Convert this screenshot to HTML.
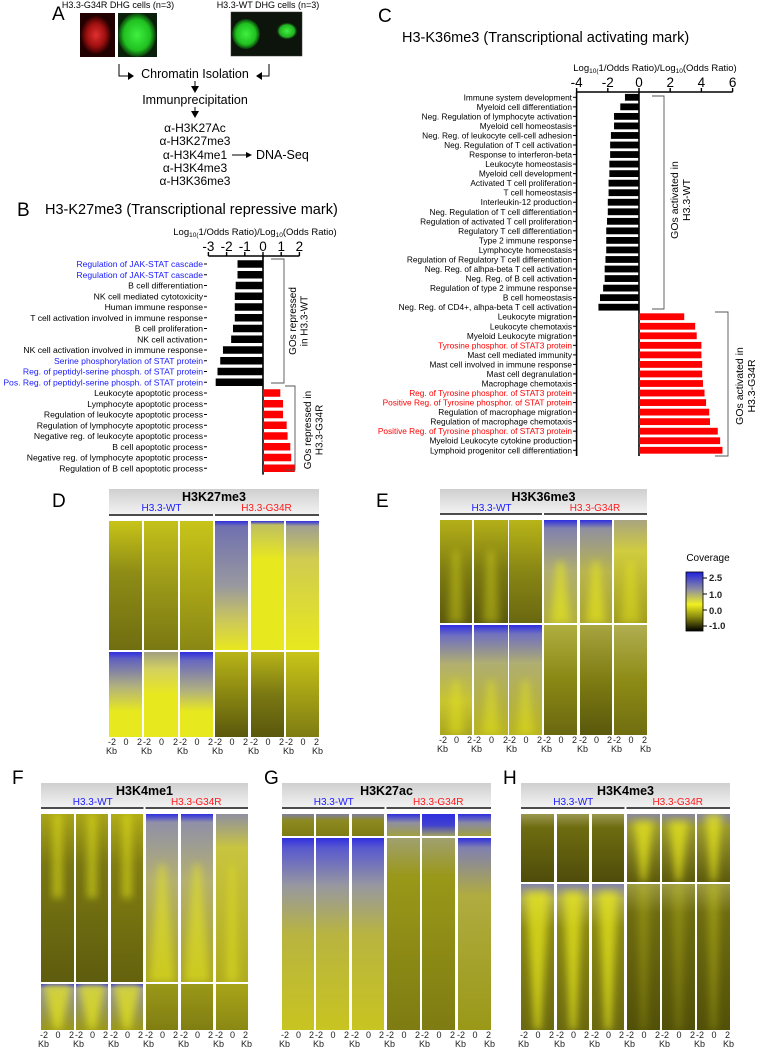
<!DOCTYPE html>
<html><head><meta charset="utf-8"><style>
html,body{margin:0;padding:0;background:#fff;}
svg{display:block;font-family:"Liberation Sans",Arial,sans-serif;}
</style></head><body>
<svg id="fig" width="757" height="1049" viewBox="0 0 757 1049" xmlns="http://www.w3.org/2000/svg">
<defs>
<filter id="blur3" x="-50%" y="-10%" width="200%" height="120%"><feGaussianBlur stdDeviation="4"/></filter>
<radialGradient id="redblob" cx="50%" cy="50%" r="50%"><stop offset="0" stop-color="#e03030"/><stop offset="0.6" stop-color="#a01010"/><stop offset="1" stop-color="#300000"/></radialGradient>
<radialGradient id="greenblob" cx="50%" cy="50%" r="50%"><stop offset="0" stop-color="#40f040"/><stop offset="0.7" stop-color="#20c020"/><stop offset="1" stop-color="#0a3a0a"/></radialGradient>
<radialGradient id="greensmall" cx="50%" cy="50%" r="50%"><stop offset="0" stop-color="#40f040"/><stop offset="0.7" stop-color="#20b020"/><stop offset="1" stop-color="#101a10" stop-opacity="0"/></radialGradient>
<linearGradient id="cbar" x1="0" y1="0" x2="0" y2="1"><stop offset="0" stop-color="#2020e0"/><stop offset="0.3" stop-color="#9090a0"/><stop offset="0.55" stop-color="#f0f020"/><stop offset="0.75" stop-color="#909010"/><stop offset="1" stop-color="#000"/></linearGradient>
<linearGradient id="hdr" x1="0" y1="0" x2="0" y2="1"><stop offset="0" stop-color="#cfcfcf"/><stop offset="1" stop-color="#f2f2f2"/></linearGradient>
</defs>

<!-- Panel A -->
<g>
<text x="52" y="20" font-size="19">A</text>
<text x="118" y="8" font-size="9" text-anchor="middle">H3.3-G34R DHG cells (n=3)</text>
<text x="268" y="8" font-size="9" text-anchor="middle">H3.3-WT DHG cells (n=3)</text>
<rect x="80" y="13" width="35" height="44" fill="#200000"/>
<ellipse cx="96" cy="35" rx="15" ry="19" fill="url(#redblob)"/>
<rect x="118" y="13" width="39" height="44" fill="#0a200a"/>
<ellipse cx="137" cy="35" rx="19" ry="22" fill="url(#greenblob)"/>
<rect x="231" y="12" width="71" height="44" fill="#0c140c" stroke="#333" stroke-width="0.5"/>
<ellipse cx="246" cy="34" rx="14" ry="15" fill="url(#greenblob)"/>
<ellipse cx="287" cy="31" rx="11" ry="9" fill="url(#greensmall)"/>
<path d="M119 64 V76 H128" fill="none" stroke="#000" stroke-width="1"/>
<polygon points="128,72 134,76 128,80" fill="#000"/>
<path d="M269 64 V76 H262" fill="none" stroke="#000" stroke-width="1"/>
<polygon points="262,72 256,76 262,80" fill="#000"/>
<text x="195" y="78" font-size="12.5" text-anchor="middle">Chromatin Isolation</text>
<line x1="195" y1="81" x2="195" y2="88" stroke="#000"/><polygon points="191,86 199,86 195,93" fill="#000"/>
<text x="195" y="104" font-size="12.5" text-anchor="middle">Immunprecipitation</text>
<line x1="195" y1="107" x2="195" y2="113" stroke="#000"/><polygon points="191,111 199,111 195,118" fill="#000"/>
<g font-size="12" text-anchor="middle">
<text x="195" y="132">α-H3K27Ac</text>
<text x="195" y="145">α-H3K27me3</text>
<text x="195" y="159">α-H3K4me1</text>
<text x="195" y="172">α-H3K4me3</text>
<text x="195" y="185">α-H3K36me3</text>
</g>
<line x1="232" y1="155" x2="248" y2="155" stroke="#000"/><polygon points="246,152 252,155 246,158" fill="#000"/>
<text x="256" y="159" font-size="12.5">DNA-Seq</text>
</g>

<g id="chartB">
<text x="17" y="216" font-size="19">B</text>
<text x="45" y="214" font-size="14.5">H3-K27me3 (Transcriptional repressive mark)</text>
</g>
<g id="chartC">
<text x="378" y="22" font-size="19">C</text>
<text x="402" y="42" font-size="14.5">H3-K36me3 (Transcriptional activating mark)</text>
</g>

<g id="heatmaps">
<text x="52" y="507" font-size="19">D</text>
<text x="376" y="507" font-size="19">E</text>
<text x="12" y="784" font-size="19">F</text>
<text x="264" y="784" font-size="19">G</text>
<text x="503" y="784" font-size="19">H</text>
</g>

<g>
<text x="708" y="561" font-size="10" text-anchor="middle">Coverage</text>
<rect x="686" y="572" width="17" height="59" fill="url(#cbar)" stroke="#000" stroke-width="0.8"/>
<g font-size="9.5" font-weight="bold" fill="#222">
<line x1="703" y1="578" x2="707" y2="578" stroke="#000"/><text x="709" y="581">2.5</text>
<line x1="703" y1="594" x2="707" y2="594" stroke="#000"/><text x="709" y="598">1.0</text>
<line x1="703" y1="610" x2="707" y2="610" stroke="#000"/><text x="709" y="614">0.0</text>
<line x1="703" y1="626" x2="707" y2="626" stroke="#000"/><text x="709" y="629">-1.0</text>
</g>
</g>
</svg>
<script>
// ---------- Panel B data ----------
const bLabels = ["Regulation of JAK-STAT cascade","Regulation of JAK-STAT cascade","B cell differentiation","NK cell mediated cytotoxicity","Human immune response","T cell activation involved in immune response","B cell proliferation","NK cell activation","NK cell activation involved in immune response","Serine phosphorylation of STAT protein","Reg. of peptidyl-serine phosph. of STAT protein","Pos. Reg. of peptidyl-serine phosph. of STAT protein","Leukocyte apoptotic process","Lymphocyte apoptotic process","Regulation of leukocyte apoptotic process","Regulation of lymphocyte apoptotic process","Negative reg. of leukocyte apoptotic process","B cell apoptotic process","Negative reg. of lymphocyte apoptotic process","Regulation of B cell apoptotic process"];
const bValues = [-1.4,-1.4,-1.5,-1.55,-1.55,-1.55,-1.65,-1.75,-2.2,-2.35,-2.5,-2.6,0.95,1.1,1.1,1.3,1.35,1.5,1.55,1.75];
const bHighlight = [1,1,0,0,0,0,0,0,0,1,1,1,0,0,0,0,0,0,0,0];
const bTicks = [-3,-2,-1,0,1,2];
// ---------- Panel C data ----------
const cLabels = ["Immune system development","Myeloid cell differentiation","Neg. Regulation of lymphocyte activation","Myeloid cell homeostasis","Neg. Reg. of leukocyte cell-cell adhesion","Neg. Regulation of T cell activation","Response to interferon-beta","Leukocyte homeostasis","Myeloid cell development","Activated T cell proliferation","T cell homeostasis","Interleukin-12 production","Neg. Regulation of T cell differentiation","Regulation of activated T cell proliferation","Regulatory T cell differentiation","Type 2 immune response","Lymphocyte homeostasis","Regulation of Regulatory T cell differentiation","Neg. Reg. of alhpa-beta T cell activation","Neg. Reg. of B cell activation","Regulation of type 2 immune response","B cell homeostasis","Neg. Reg. of CD4+, alhpa-beta T cell activation","Leukocyte migration","Leukocyte chemotaxis","Myeloid Leukocyte migration","Tyrosine phosphor. of STAT3 protein","Mast cell mediated immunity","Mast cell involved in immune response","Mast cell degranulation","Macrophage chemotaxis","Reg. of Tyrosine phosphor. of STAT3 protein","Positive Reg. of Tyrosine phosphor. of STAT protein","Regulation of macrophage migration","Regulation of macrophage chemotaxis","Positive Reg. of Tyrosine phosphor. of STAT3 protein","Myeloid Leukocyte cytokine production","Lymphoid progenitor cell differentiation"];
const cValues = [-0.9,-1.2,-1.6,-1.6,-1.8,-1.85,-1.85,-1.9,-1.9,-1.95,-1.95,-2.0,-2.0,-2.05,-2.1,-2.1,-2.1,-2.15,-2.2,-2.2,-2.3,-2.5,-2.6,2.9,3.6,3.7,4.0,4.0,4.05,4.05,4.1,4.2,4.3,4.5,4.55,5.05,5.2,5.35];
const cHighlight = [0,0,0,0,0,0,0,0,0,0,0,0,0,0,0,0,0,0,0,0,0,0,0,0,0,0,1,0,0,0,0,1,1,0,0,1,0,0];
const cTicks = [-4,-2,0,2,4,6];

const NS = "http://www.w3.org/2000/svg";
function mk(tag, attrs, parent){const e=document.createElementNS(NS,tag);for(const k in attrs)e.setAttribute(k,attrs[k]);parent.appendChild(e);return e;}

function drawBars(g, o){
  const xs = v => o.zeroX + v*o.unit;
  const ys = i => o.y0 + i*o.step;
  const n = o.labels.length;
  const yEnd = ys(n-1)+o.step/2+1;
  const at = mk('text',{x:o.titleX,y:o.axisY-21,'font-size':9.5,'text-anchor':'middle'},g);
  
  
  at.innerHTML='Log<tspan font-size="6.5" dy="2">10(</tspan><tspan dy="-2">1/Odds Ratio)/Log</tspan><tspan font-size="6.5" dy="2">10</tspan><tspan dy="-2">(Odds Ratio)</tspan>';
  const ax = mk('line',{x1:xs(o.ticks[0]),x2:xs(o.ticks[o.ticks.length-1]),y1:o.axisY,y2:o.axisY,stroke:'#000','stroke-width':1.6},g);
  
  
  o.ticks.forEach(t=>{
    mk('line',{x1:xs(t),x2:xs(t),y1:o.axisY-4,y2:o.axisY,stroke:'#000','stroke-width':1.4},g);
    const tl = mk('text',{x:xs(t),y:o.axisY-5,'font-size':o.tickFont,'text-anchor':'middle'},g);
    
    
    tl.textContent=t;
  });
  if(o.leftAxis){
    const la = mk('line',{x1:xs(o.ticks[0]),x2:xs(o.ticks[0]),y1:o.axisY,y2:yEnd,stroke:'#000','stroke-width':1.6},g);
    
    
  }
  const zl = mk('line',{x1:xs(0),x2:xs(0),y1:o.axisY,y2:yEnd,stroke:'#000','stroke-width':1.6},g);
  
  
  o.labels.forEach((lab,i)=>{
    const v=o.values[i], y=ys(i);
    const r = mk('rect',{x:Math.min(xs(0),xs(v)),y:y-o.barH/2,width:Math.abs(xs(v)-xs(0)),height:o.barH,fill:v<0?'#000':'#ff0000'},g);
    
    
    mk('line',{x1:o.labelX+1,x2:o.labelX+4,y1:y,y2:y,stroke:'#000','stroke-width':1},g);
    const t = mk('text',{x:o.labelX,y:y+3,'font-size':o.labelFont,'text-anchor':'end',fill:o.hl[i]?o.hlColor:'#000'},g);
    
    
    t.textContent=lab;
  });
}
drawBars(document.getElementById('chartB'),{labels:bLabels,values:bValues,hl:bHighlight,hlColor:'#1a1aff',ticks:bTicks,zeroX:263,unit:18.2,axisY:256,y0:264,step:10.75,barH:7.5,labelX:203,labelFont:8.6,tickFont:13.5,titleX:255,leftAxis:false});
drawBars(document.getElementById('chartC'),{labels:cLabels,values:cValues,hl:cHighlight,hlColor:'#ff0000',ticks:cTicks,zeroX:639,unit:15.6,axisY:92,y0:97.3,step:9.54,barH:6.8,labelX:572,labelFont:8.3,tickFont:13.5,titleX:655,leftAxis:true});

function bracket(g,x1,x2,y1,y2,name){const p=mk('path',{d:`M${x1} ${y1} H${x2} V${y2} H${x1}`,fill:'none',stroke:'#555','stroke-width':0.9},g);}
function vtext(g,x,y,lines,fs,name){const t=mk('text',{transform:`translate(${x},${y}) rotate(-90)`,'font-size':fs,'text-anchor':'middle'},g);lines.forEach((l,i)=>{const s=mk('tspan',{x:0,dy:i?fs*1.15:0},t);s.textContent=l;});}
const gB=document.getElementById('chartB'), gC=document.getElementById('chartC');
bracket(gB,271,284,259,383,'wt-bracket'); vtext(gB,296,321,['GOs repressed','in H3.3-WT'],10,'wt-group-label');
bracket(gB,285,295,386,470,'g34r-bracket'); vtext(gB,311,430,['GOs repressed in','H3.3-G34R'],10,'g34r-group-label');
bracket(gC,652,664,96,309,'wt-bracket'); vtext(gC,678,200,['GOs activated in','H3.3-WT'],10.5,'wt-group-label');
bracket(gC,715,728,312,456,'g34r-bracket'); vtext(gC,743,386,['GOs activated in','H3.3-G34R'],10.5,'g34r-group-label');

// ---------- Heatmaps ----------
const Y="#e8e81e", L="#c8c418", O="#8c8a14", D="#5a580c", B="#2e2ee0", G="#a0a070", P="#d4d060";
let gid=0;
const H=document.getElementById('heatmaps');
function block(x,y,w,h,stops,v,name){
  const id='g'+(gid++);
  const lg=mk('linearGradient',{id:id,x1:0,y1:0,x2:0,y2:1},document.querySelector('defs'));
  stops.forEach(s=>mk('stop',{offset:s[0],'stop-color':s[1]},lg));
  const r=mk('rect',{x:x,y:y,width:w,height:h,fill:`url(#${id})`},H);
  
  
  if(v){const cx=x+w/2,t=y+h*v[0],b=y+h*v[1];
    const cp='c'+id;
    const clip=mk('clipPath',{id:cp},document.querySelector('defs'));
    mk('rect',{x:x,y:y,width:w,height:h},clip);
    mk('polygon',{points:`${cx-w*v[2]/2},${t} ${cx+w*v[2]/2},${t} ${cx+w*v[3]/2},${b} ${cx-w*v[3]/2},${b}`,fill:v[5]||Y,opacity:v[4]*0.8,filter:'url(#blur3)','clip-path':`url(#${cp})`},H);}
}
function panel(p){
  const hx=p.cols[0][0], hr=p.cols[5][1];
  const hb=mk('rect',{x:hx,y:p.hy,width:hr-hx,height:p.top-p.hy-7,fill:'url(#hdr)'},H);
  
  
  const ht=mk('text',{x:(hx+hr)/2,y:p.hy+12,'font-size':12.5,'font-weight':'bold','text-anchor':'middle'},H);
  
  
  ht.textContent=p.title;
  const mid=(p.cols[2][1]+p.cols[3][0])/2;
  const wt=mk('text',{x:(hx+mid)/2,y:p.hy+22,'font-size':10,fill:'#1a1aff','text-anchor':'middle'},H);
  
  
  wt.textContent='H3.3-WT';
  const mt=mk('text',{x:(mid+hr)/2,y:p.hy+22,'font-size':10,fill:'#ff1a1a','text-anchor':'middle'},H);
  
  
  mt.textContent='H3.3-G34R';
  mk('line',{x1:hx,x2:mid-1,y1:p.top-6,y2:p.top-6,stroke:'#111','stroke-width':1.5},H);
  mk('line',{x1:mid+1,x2:hr,y1:p.top-6,y2:p.top-6,stroke:'#111','stroke-width':1.5},H);
  p.cols.forEach((c,i)=>{
    const w=c[1]-c[0];
    block(c[0],p.top,w,p.split-p.top-1,p.topS[i],p.topV[i],p.name+'-top-col'+(i+1));
    block(c[0],p.split+1,w,p.bot-p.split-1,p.botS[i],p.botV[i],p.name+'-bottom-col'+(i+1));
    const tk=mk('text',{y:p.bot+8,'font-size':9,fill:'#222'},H);
    
    
    [['-2',c[0]-1],['0',c[0]+w*0.5-2],['2',c[1]-5]].forEach(a=>{const s=mk('tspan',{x:a[1]},tk);s.textContent=a[0];});
    const kb=mk('text',{x:c[0]-3,y:p.bot+17,'font-size':9,fill:'#222'},H);kb.textContent='Kb';
    if(i===5){const kb2=mk('text',{x:c[1]-7,y:p.bot+17,'font-size':9,fill:'#222'},H);kb2.textContent='Kb';}
  });
}
const wtTopD=[[0,L],[0.4,"#8e8c16"],[1,"#706e10"]];
panel({name:'h3k27me3',title:'H3K27me3',hy:489,top:521,split:651,bot:737,
 cols:[[109,142],[144,178],[180,213],[215,248],[251,284],[286,319]],
 topS:[wtTopD,[[0,"#c4c01a"],[0.5,"#9a9818"],[1,"#7a7812"]],[[0,"#c8c41a"],[1,"#8a8814"]],[[0,B],[0.04,"#7070b0"],[0.5,"#9898a0"],[0.75,"#c8c460"],[1,Y]],[[0,B],[0.03,"#c0c060"],[0.3,Y],[1,Y]],[[0,B],[0.04,"#a0a090"],[0.3,"#d0cc50"],[1,Y]]],
 topV:[0,0,0,0,0,0],
 botS:[[[0,B],[0.08,"#6060c0"],[0.4,"#b0b080"],[0.7,Y],[1,Y]],[[0,"#a0a080"],[0.2,P],[0.5,Y],[1,Y]],[[0,B],[0.1,"#6868c0"],[0.45,"#b0b080"],[0.7,Y],[1,Y]],[[0,"#b8b418"],[1,D]],[[0,"#b8b418"],[0.5,"#7a7812"],[1,D]],[[0,"#c8c418"],[1,"#7e7c12"]]],
 botV:[0,0,0,0,0,0]});
panel({name:'h3k36me3',title:'H3K36me3',hy:489,top:520,split:624,bot:735,
 cols:[[440,472],[474,508],[509,542],[544,577],[580,612],[614,647]],
 topS:[[[0,"#b4b018"],[0.5,"#7e7c12"],[1,D]],[[0,"#b4b018"],[0.5,"#7a7812"],[1,D]],[[0,"#b8b418"],[0.5,"#888614"],[1,"#6a6810"]],[[0,B],[0.08,"#8080b0"],[0.5,"#b0ae70"],[1,"#b0ae40"]],[[0,B],[0.08,"#9090a0"],[0.5,"#b8b450"],[1,"#a8a430"]],[[0,"#a8a480"],[0.3,"#d0cc40"],[1,"#a09c20"]]],
 topV:[[0.3,1,0.2,0.5,0.5],[0.3,1,0.2,0.5,0.5],0,[0.4,1,0.2,0.6,0.8],[0.4,1,0.2,0.6,0.8],[0.4,1,0.2,0.6,0.6]],
 botS:[[[0,B],[0.1,"#7070c0"],[0.35,"#b0ae70"],[0.7,"#c8c430"],[1,"#a8a420"]],[[0,B],[0.08,"#7070c0"],[0.35,"#b0ae70"],[1,"#b8b420"]],[[0,B],[0.08,"#7070c0"],[0.35,"#b0ae70"],[1,"#b8b420"]],[[0,"#b0ae40"],[0.5,"#8a8814"],[1,"#6a6810"]],[[0,"#a8a440"],[0.5,"#7e7c12"],[1,D]],[[0,"#b0ae50"],[0.5,"#8e8c16"],[1,"#706e10"]]],
 botV:[[0.5,1,0.2,0.5,0.6],[0.5,1,0.2,0.5,0.6],[0.5,1,0.2,0.5,0.6],0,0,0]});
panel({name:'h3k4me1',title:'H3K4me1',hy:783,top:814,split:983,bot:1030,
 cols:[[41,74],[76,108],[111,143],[146,178],[181,213],[216,248]],
 topS:[[[0,"#a8a418"],[0.3,"#7a7812"],[1,"#5e5c0e"]],[[0,"#a8a418"],[0.3,"#7a7812"],[1,"#5e5c0e"]],[[0,"#b0ac18"],[0.3,"#827e12"],[1,"#64620e"]],[[0,B],[0.05,"#9090a8"],[0.4,"#b4b070"],[1,"#a8a420"]],[[0,B],[0.05,"#9090a8"],[0.4,"#b4b070"],[1,"#a8a420"]],[[0,"#9090a0"],[0.2,"#c8c440"],[1,"#b0ac20"]]],
 topV:[[0,0.5,0.25,0.3,0.7],[0,0.5,0.25,0.3,0.7],[0,0.5,0.25,0.3,0.7],[0.3,1,0.2,0.8,0.7],[0.3,1,0.2,0.8,0.7],[0.3,1,0.15,0.4,0.6]],
 botS:[[[0,B],[0.1,"#9090a0"],[1,"#9a9818"]],[[0,B],[0.1,"#9090a0"],[1,"#9a9818"]],[[0,B],[0.1,"#9090a0"],[1,"#9a9818"]],[[0,"#9a9818"],[1,"#807e12"]],[[0,"#9a9818"],[1,"#807e12"]],[[0,"#a8a418"],[1,"#8a8814"]]],
 botV:[[0,1,0.9,0.2,0.9],[0,1,0.9,0.2,0.9],[0,1,0.9,0.2,0.9],0,0,0]});
const gTop=[[0,"#8080a0"],[0.3,"#8c8a20"],[1,"#7e7c14"]];
const gBotWT=[[0,B],[0.05,"#5858d0"],[0.25,"#9898a0"],[0.5,"#b8b440"],[1,"#c8c420"]];
panel({name:'h3k27ac',title:'H3K27ac',hy:783,top:814,split:837,bot:1030,
 cols:[[282,314],[316,349],[352,384],[387,420],[422,455],[458,491]],
 topS:[gTop,gTop,gTop,[[0,B],[0.4,"#9090a0"],[1,"#a0a040"]],[[0,B],[0.5,"#4040d0"],[1,"#a0a060"]],[[0,B],[0.4,"#8888a8"],[1,"#a0a040"]]],
 topV:[0,0,0,0,0,0],
 botS:[gBotWT,gBotWT,gBotWT,[[0,"#a0a070"],[0.2,"#9a9818"],[1,"#7e7c12"]],[[0,"#a0a070"],[0.2,"#9a9818"],[1,"#7e7c12"]],[[0,B],[0.05,"#8080b0"],[0.3,"#b0ac40"],[1,"#9a9818"]]],
 botV:[0,0,0,0,0,0]});
const hTopWT=[[0,"#9a9850"],[0.2,"#6e6c10"],[1,"#4e4c0a"]];
const hTopM=[[0,"#8888a0"],[0.2,"#9a9830"],[1,"#5c5a0c"]];
const hBotWT=[[0,"#8080b0"],[0.1,"#b0ae50"],[0.3,"#8a8814"],[1,"#6a6810"]];
const hBotM=[[0,"#9a9840"],[0.2,"#6e6c10"],[1,"#525008"]];
panel({name:'h3k4me3',title:'H3K4me3',hy:783,top:814,split:883,bot:1030,
 cols:[[521,554],[557,589],[592,624],[627,660],[662,695],[697,730]],
 topS:[hTopWT,hTopWT,hTopWT,hTopM,hTopM,hTopM],
 topV:[0,0,0,[0.1,1,0.6,0.15,0.9],[0.1,1,0.6,0.15,0.9],[0,1,0.5,0.15,0.9]],
 botS:[hBotWT,hBotWT,hBotWT,hBotM,hBotM,hBotM],
 botV:[[0.05,1,0.7,0.2,0.9],[0.05,1,0.6,0.2,0.9],[0.05,1,0.6,0.2,0.9],[0,1,0.4,0.15,0.3],[0,1,0.4,0.15,0.3],[0,1,0.4,0.15,0.4]]});
</script>
</body></html>
